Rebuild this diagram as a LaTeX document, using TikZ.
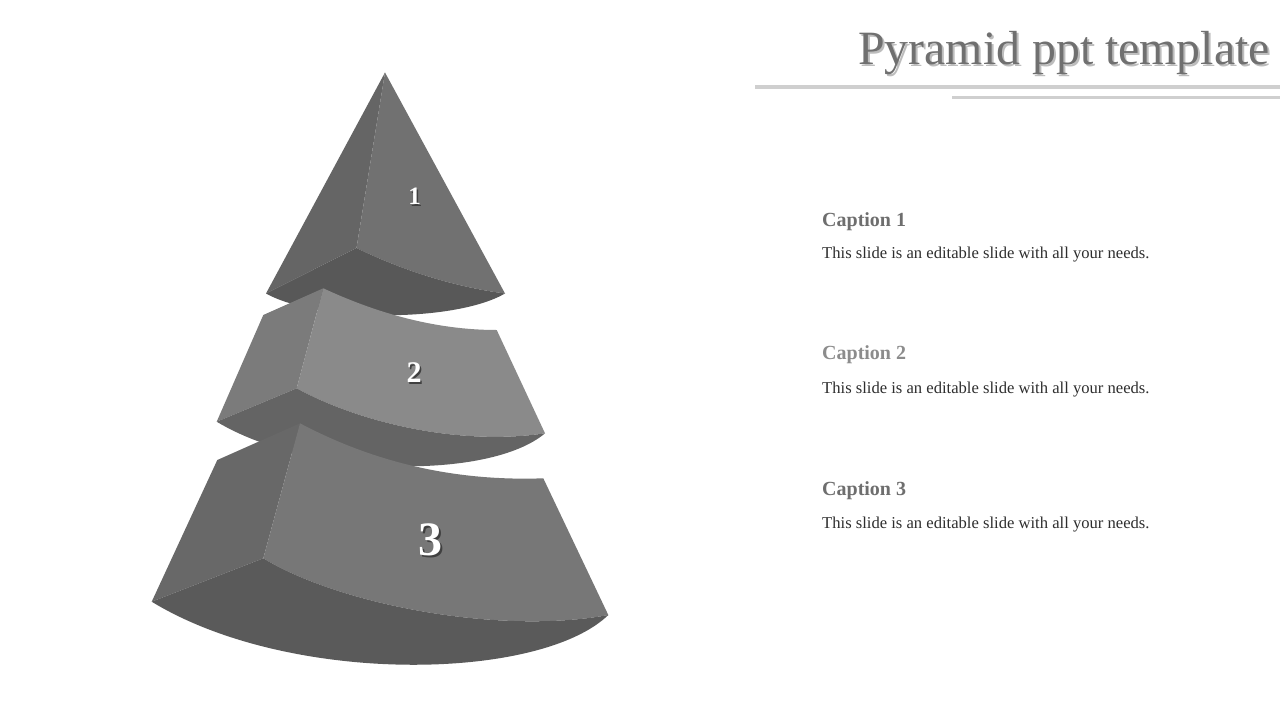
\documentclass[tikz,border=0pt]{standalone}
\usepackage{fontspec}
\setmainfont{Liberation Serif}
\definecolor{pOneL}{HTML}{656565}
\definecolor{pOneF}{HTML}{717171}
\definecolor{pOneB}{HTML}{585858}
\definecolor{pTwoL}{HTML}{7B7B7B}
\definecolor{pTwoF}{HTML}{8A8A8A}
\definecolor{pTwoB}{HTML}{646464}
\definecolor{pThrL}{HTML}{686868}
\definecolor{pThrF}{HTML}{777777}
\definecolor{pThrB}{HTML}{5A5A5A}
\definecolor{titlegray}{HTML}{707070}
\definecolor{titleshadow}{HTML}{BDBDBD}
\definecolor{rulegray}{HTML}{CFCFCF}
\definecolor{capdark}{HTML}{6E6E6E}
\definecolor{caplight}{HTML}{8C8C8C}
\definecolor{bodytext}{HTML}{2E2E2E}
\tikzset{
  face/.style={draw=none},
  numtxt/.style={text=white, font=\bfseries\fontsize{#1}{#1}\selectfont, inner sep=0pt},
  numshadow/.style={text=black!75, font=\bfseries\fontsize{#1}{#1}\selectfont, inner sep=0pt},
  captitle/.style={anchor=base west, inner sep=0pt, font=\bfseries\fontsize{20}{20}\selectfont},
  captext/.style={anchor=base west, inner sep=0pt, text=bodytext, font=\fontsize{16.6}{16.6}\selectfont},
  ruleline/.style={draw=rulegray, line width=3.6pt},
}
\begin{document}
\begin{tikzpicture}[x=1pt, y=-1pt]
\useasboundingbox (0,0) rectangle (1280,720);
\fill[white] (0,0) rectangle (1280,720);

% ---------- piece 1 ----------
\coordinate (A1) at (385,72.5);
\coordinate (V1) at (356.5,248);
\coordinate (L1) at (266,293.5);
\coordinate (R1) at (505,293.5);
\fill[pOneL] (A1) -- (L1) -- (V1) -- cycle;
\fill[pOneF] (A1) -- (V1) .. controls (385,262) and (440,285) .. (R1) -- cycle;
\fill[pOneB] (L1) -- (V1) .. controls (385,262) and (440,285) .. (R1)
   .. controls (455,322.5) and (318,322.5) .. (L1) -- cycle;

% ---------- piece 2 ----------
\coordinate (TL2) at (263.3,315);
\coordinate (TV2) at (323.3,288.3);
\coordinate (TR2) at (496.7,330);
\coordinate (BV2) at (296.7,388.3);
\coordinate (BL2) at (216.7,421.7);
\coordinate (BR2) at (545,433.3);
\fill[pTwoL] (TL2) -- (TV2) -- (BV2) -- (BL2) -- cycle;
\fill[pTwoF] (TV2) .. controls (370,310) and (430,330) .. (TR2) -- (BR2)
   .. controls (460,446) and (360,423) .. (BV2) -- cycle;
\fill[pTwoB] (BL2) -- (BV2) .. controls (360,423) and (460,446) .. (BR2)
   .. controls (490,480) and (310,478) .. (BL2) -- cycle;

% ---------- piece 3 ----------
\coordinate (TL3) at (217.3,460);
\coordinate (TV3) at (300,423.3);
\coordinate (TR3) at (543.3,478.3);
\coordinate (BV3) at (263.3,558.3);
\coordinate (BL3) at (151.7,601.7);
\coordinate (BR3) at (608.3,615);
\fill[pThrL] (TL3) -- (TV3) -- (BV3) -- (BL3) -- cycle;
\fill[pThrF] (TV3) .. controls (360,455) and (440,482) .. (TR3) -- (BR3)
   .. controls (500,635) and (340,605) .. (BV3) -- cycle;
\fill[pThrB] (BL3) -- (BV3) .. controls (340,605) and (500,635) .. (BR3)
   .. controls (540,681) and (290,686) .. (BL3) -- cycle;

% ---------- numbers ----------
\node[numshadow=25] at (416.2,198.2) {1};
\node[numtxt=25] (n1) at (414.7,196.7) {1};
\node[numshadow=30] at (415.6,374.6) {2};
\node[numtxt=30] (n2) at (414,373) {2};
\node[numshadow=48] at (432.3,542) {3};
\node[numtxt=48] (n3) at (430.3,540) {3};

% ---------- title ----------
\node[anchor=base east, inner sep=0pt, text=titleshadow,
      font=\fontsize{47.8}{47.8}\selectfont] at (1272,66) {Pyramid ppt template};
\node[anchor=base east, inner sep=0pt, text=titlegray,
      font=\fontsize{47.8}{47.8}\selectfont] (title) at (1270,64) {Pyramid ppt template};
\coordinate (r1a) at (755,86.7);
\coordinate (r1b) at (1280,86.7);
\coordinate (r2a) at (952,97.5);
\coordinate (r2b) at (1280,97.5);
\draw[ruleline] (r1a) -- (r1b);
\draw[ruleline] (r2a) -- (r2b);

% ---------- captions ----------
\node[captitle, text=capdark] (c1) at (822,226) {Caption 1};
\node[captext] (t1) at (822,258.3) {This slide is an editable slide with all your needs.};
\node[captitle, text=caplight] (c2) at (822,359.3) {Caption 2};
\node[captext] (t2) at (822,393.3) {This slide is an editable slide with all your needs.};
\node[captitle, text=capdark] (c3) at (822,495) {Caption 3};
\node[captext] (t3) at (822,528.3) {This slide is an editable slide with all your needs.};
\end{tikzpicture}
\end{document}
